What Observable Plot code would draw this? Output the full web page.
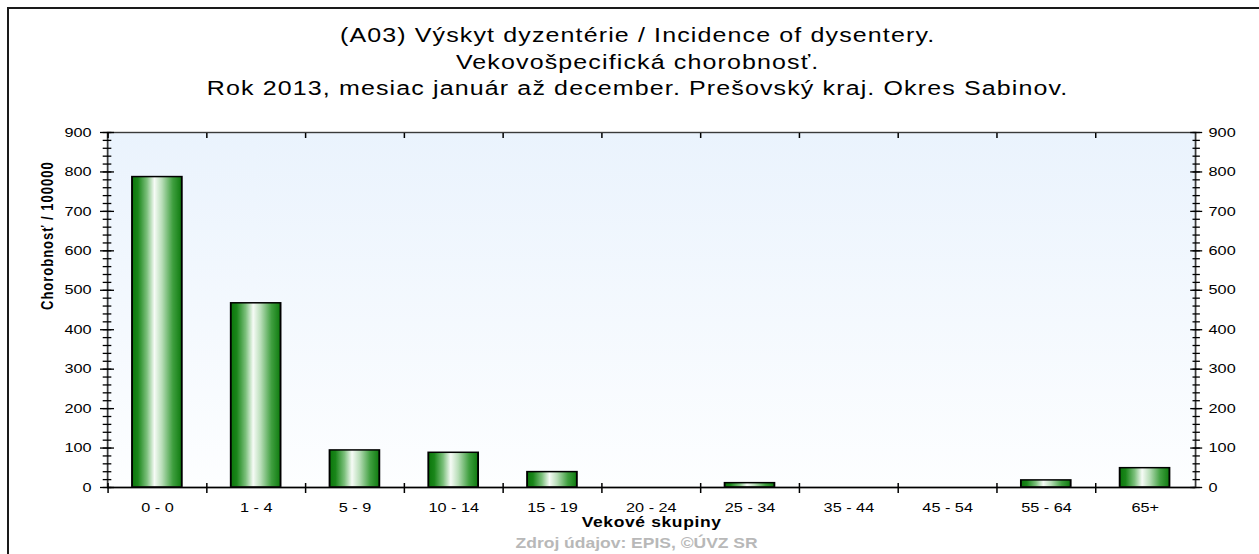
<!DOCTYPE html>
<html>
<head>
<meta charset="utf-8">
<script src="https://cdn.jsdelivr.net/npm/d3@7"></script>
<script src="https://cdn.jsdelivr.net/npm/@observablehq/plot@0.6"></script>
<style>
  html, body { margin: 0; padding: 0; background: #fff; overflow: hidden; width: 1259px; height: 554px; }
  #page { position: relative; width: 1259px; height: 554px; overflow: hidden; }
  #inner { position: absolute; left: 0; top: 0; width: 1007px; height: 554px; transform: scaleX(1.2502); transform-origin: 0 0; }
  #frame { position: absolute; left: 7px; top: 7px; width: 1280px; height: 600px; border: 2px solid #1a1a1a; box-sizing: border-box; pointer-events: none; }
  #title { position: absolute; left: 0; top: 22px; width: 1020px; text-align: center;
           font-family: "Liberation Sans", Arial, sans-serif; font-size: 20px; line-height: 26.5px;
           letter-spacing: 0.9px; color: #000; }
  #chart { position: absolute; left: 0; top: 110px; }
</style>
</head>
<body>
<div id="page">
  <div id="inner">
    <div id="title">
      <div>(A03) Výskyt dyzentérie / Incidence of dysentery.</div>
      <div>Vekovošpecifická chorobnosť.</div>
      <div>Rok 2013, mesiac január až december. Prešovský kraj. Okres Sabinov.</div>
    </div>
    <div id="chart"></div>
  </div>
  <div id="frame"></div>
</div>
<script>
const groups = ["0 - 0", "1 - 4", "5 - 9", "10 - 14", "15 - 19", "20 - 24", "25 - 34", "35 - 44", "45 - 54", "55 - 64", "65+"];
const values = [787, 467, 94, 88, 39, 0, 11, 0, 0, 18, 49];
const yTicks = [0, 100, 200, 300, 400, 500, 600, 700, 800, 900];
const yMinorTicks = d3.range(0, 901, 20);
const yLabel = "Chorobnosť / 100000";
const xLabel = "Vekové skupiny";
const source = "Zdroj údajov: EPIS, ©ÚVZ SR";

const data = groups.map((g, i) => ({group: g, value: values[i]}));

const W = 1007, H = 444, mL = 85.6, mR = 51.2, mT = 22, mB = 67;
const half = (W - mL - mR) / groups.length / 2;
const blank = () => "";

const chart = Plot.plot({
  width: W, height: H,
  marginLeft: mL, marginRight: mR, marginTop: mT, marginBottom: mB,
  x: {type: "band", domain: groups, padding: 0, axis: null},
  y: {domain: [0, 900], axis: null},
  style: {fontFamily: "'Liberation Sans', Arial, sans-serif", fontSize: "13px", color: "#000", background: "transparent", overflow: "visible"},
  marks: [
    Plot.frame({fill: "url(#plotBg)"}),
    Plot.barY(data.filter(d => d.value > 0), {x: "group", y: "value", insetLeft: 19.6, insetRight: 19.6,
      fill: "url(#barGrad)", stroke: "#000", strokeWidth: 1.5}),
    Plot.frame({stroke: "#3a3a3a", strokeWidth: 1.4}),
    Plot.ruleY([0], {stroke: "#000", strokeWidth: 1.6}),
    // left axis
    Plot.axisY({ticks: yMinorTicks, anchor: "left", tickSize: 6.9, dx: 3.45, tickFormat: blank, label: null, strokeWidth: 1.3}),
    Plot.axisY({ticks: yTicks, anchor: "left", tickSize: 11.2, dx: 5.6, tickFormat: blank, label: null, strokeWidth: 1.3}),
    Plot.axisY({ticks: yTicks, anchor: "left", tickSize: 0, tickPadding: 12.8, label: null}),
    // right axis
    Plot.axisY({ticks: yMinorTicks, anchor: "right", tickSize: 5.9, dx: -2.95, tickFormat: blank, label: null, strokeWidth: 1.3}),
    Plot.axisY({ticks: yTicks, anchor: "right", tickSize: 9.6, dx: -4.8, tickFormat: blank, label: null, strokeWidth: 1.3}),
    Plot.axisY({ticks: yTicks, anchor: "right", tickSize: 0, tickPadding: 10.4, label: null}),
    // bottom axis
    Plot.axisX({anchor: "bottom", tickSize: 10, dy: -4, dx: -half, tickFormat: blank, label: null, strokeWidth: 1.2}),
    Plot.axisX({anchor: "bottom", tickSize: 0, tickPadding: 15, label: null}),
    // top axis
    Plot.axisX({anchor: "top", tickSize: 5, dy: 5, dx: -half, tickFormat: blank, label: null, strokeWidth: 1.2}),
    // labels
    Plot.text([yLabel], {frameAnchor: "left", rotate: -90, dx: -48, fontWeight: "bold", fontSize: 13}),
    Plot.text([xLabel], {frameAnchor: "bottom", dy: 39, fontWeight: "bold", fontSize: 14}),
    Plot.text([source], {frameAnchor: "bottom", dy: 60, dx: -12, fontWeight: "bold", fontSize: 14, fill: "#b8b8b8"})
  ]
});

const svg = d3.select(chart);
const defs = svg.insert("defs", ":first-child");
const bg = defs.append("linearGradient").attr("id", "plotBg").attr("x1", 0).attr("y1", 0).attr("x2", 0).attr("y2", 1);
bg.append("stop").attr("offset", "0").attr("stop-color", "#eaf3fd");
bg.append("stop").attr("offset", "1").attr("stop-color", "#fdfeff");
const bar = defs.append("linearGradient").attr("id", "barGrad").attr("x1", 0).attr("y1", 0).attr("x2", 1).attr("y2", 0);
[["0", "#0b760b"], ["0.12", "#1a861a"], ["0.3", "#7cc07c"], ["0.45", "#f6fbf6"], ["0.6", "#b9deb9"], ["0.82", "#3f9f3f"], ["1", "#0e7a0e"]]
  .forEach(([o, c]) => bar.append("stop").attr("offset", o).attr("stop-color", c));

svg.selectAll("text").filter(function() { return this.textContent === xLabel; }).style("letter-spacing", "0.5px");
svg.selectAll("text").filter(function() { return this.textContent === yLabel; }).style("letter-spacing", "1px");

document.getElementById("chart").appendChild(chart);
</script>
</body>
</html>
